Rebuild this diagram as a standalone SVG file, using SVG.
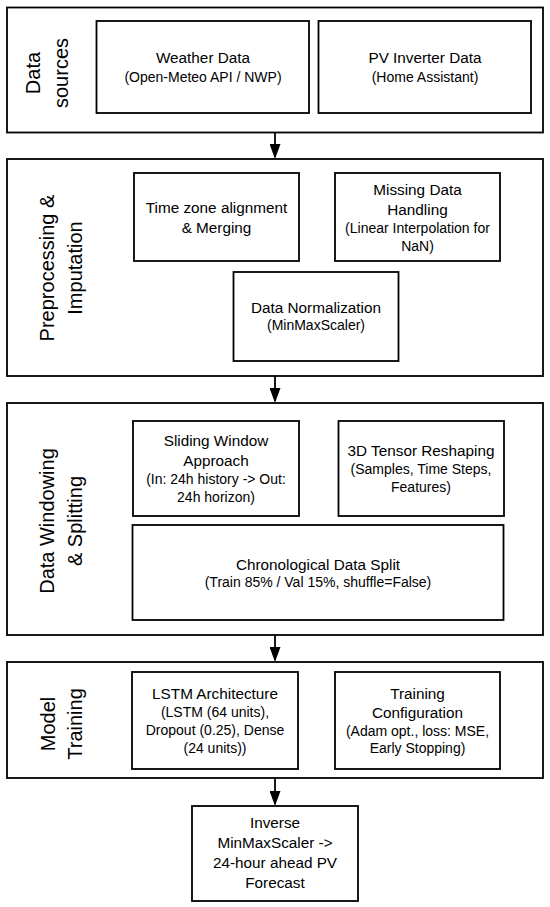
<svg xmlns="http://www.w3.org/2000/svg" width="550" height="907" viewBox="0 0 550 907">
<defs>
<marker id="arr" viewBox="0 0 15 11" refX="13" refY="5.5" markerWidth="15" markerHeight="11" markerUnits="userSpaceOnUse" orient="auto">
<path d="M0,0 L15,5.5 L0,11 z" fill="#000"/>
</marker>
<style>
.stage{fill:#fff;stroke:#000;stroke-width:1.8}
.box{fill:#fff;stroke:#000;stroke-width:1.8}
text{font-family:"Liberation Sans",Arial,sans-serif;fill:#000;text-anchor:middle}
.m{font-size:15.3px}
.s{font-size:14px}
.lab{font-size:20px;dominant-baseline:central}
.conn{stroke:#000;stroke-width:1.8;fill:none;marker-end:url(#arr)}
</style>
</defs>
<rect width="550" height="907" fill="#fff"/>

<g id="stage-data-sources">
<rect class="stage" x="7" y="7.5" width="536" height="125"/>
<text class="lab" transform="translate(33,73) rotate(-90)">Data</text>
<text class="lab" transform="translate(61,73) rotate(-90)">sources</text>
</g>
<g id="node-weather">
<rect class="box" x="96.5" y="21" width="212.5" height="92"/>
<text class="m" x="203" y="63">Weather Data</text>
<text class="s" x="203" y="82">(Open-Meteo API / NWP)</text>
</g>
<g id="node-pv">
<rect class="box" x="318.5" y="21" width="212.5" height="92"/>
<text class="m" x="425" y="63">PV Inverter Data</text>
<text class="s" x="425" y="82">(Home Assistant)</text>
</g>

<g id="stage-preprocessing">
<rect class="stage" x="7" y="159" width="536" height="217"/>
<text class="lab" transform="translate(47,268) rotate(-90)">Preprocessing &amp;</text>
<text class="lab" transform="translate(75,268) rotate(-90)">Imputation</text>
</g>
<g id="node-timezone">
<rect class="box" x="134" y="173" width="165" height="88"/>
<text class="m" x="216.5" y="213">Time zone alignment</text>
<text class="m" x="216.5" y="233">&amp; Merging</text>
</g>
<g id="node-missing">
<rect class="box" x="335" y="173" width="165" height="88"/>
<text class="m" x="417.5" y="195">Missing Data</text>
<text class="m" x="417.5" y="215">Handling</text>
<text class="s" x="417.5" y="233">(Linear Interpolation for</text>
<text class="s" x="417.5" y="251">NaN)</text>
</g>
<g id="node-normalization">
<rect class="box" x="233.5" y="272" width="165" height="89"/>
<text class="m" x="316" y="313">Data Normalization</text>
<text class="s" x="316" y="330">(MinMaxScaler)</text>
</g>

<g id="stage-windowing">
<rect class="stage" x="7" y="403" width="536" height="232"/>
<text class="lab" transform="translate(47,521) rotate(-90)">Data Windowing</text>
<text class="lab" transform="translate(75,521) rotate(-90)">&amp; Splitting</text>
</g>
<g id="node-sliding">
<rect class="box" x="133" y="421" width="166" height="95"/>
<text class="m" x="216" y="446">Sliding Window</text>
<text class="m" x="216" y="466">Approach</text>
<text class="s" x="216" y="484">(In: 24h history -&gt; Out:</text>
<text class="s" x="216" y="502">24h horizon)</text>
</g>
<g id="node-tensor">
<rect class="box" x="338.5" y="421" width="165.5" height="95"/>
<text class="m" x="421" y="456">3D Tensor Reshaping</text>
<text class="s" x="421" y="474">(Samples, Time Steps,</text>
<text class="s" x="421" y="492">Features)</text>
</g>
<g id="node-split">
<rect class="box" x="132.5" y="525" width="371" height="95"/>
<text class="m" x="318" y="570">Chronological Data Split</text>
<text class="s" x="318" y="587">(Train 85% / Val 15%, shuffle=False)</text>
</g>

<g id="stage-training">
<rect class="stage" x="7" y="662" width="536" height="116"/>
<text class="lab" transform="translate(48,724) rotate(-90)">Model</text>
<text class="lab" transform="translate(75,724) rotate(-90)">Training</text>
</g>
<g id="node-lstm">
<rect class="box" x="132" y="672" width="166" height="97"/>
<text class="m" x="215" y="699">LSTM Architecture</text>
<text class="s" x="215" y="717">(LSTM (64 units),</text>
<text class="s" x="215" y="735">Dropout (0.25), Dense</text>
<text class="s" x="215" y="753">(24 units))</text>
</g>
<g id="node-trainconfig">
<rect class="box" x="335" y="672" width="165" height="97"/>
<text class="m" x="417.5" y="699">Training</text>
<text class="m" x="417.5" y="718">Configuration</text>
<text class="s" x="417.5" y="736">(Adam opt., loss: MSE,</text>
<text class="s" x="417.5" y="753">Early Stopping)</text>
</g>

<g id="node-output">
<rect class="box" x="192" y="806" width="166" height="95"/>
<text class="m" x="275" y="828">Inverse</text>
<text class="m" x="275" y="848">MinMaxScaler -&gt;</text>
<text class="m" x="275" y="868">24-hour ahead PV</text>
<text class="m" x="275" y="888">Forecast</text>
</g>

<g id="connectors">
<line class="conn" x1="275" y1="132.5" x2="275" y2="157"/>
<line class="conn" x1="275" y1="376" x2="275" y2="401"/>
<line class="conn" x1="275" y1="635" x2="275" y2="660"/>
<line class="conn" x1="275" y1="778" x2="275" y2="804"/>
</g>
</svg>
